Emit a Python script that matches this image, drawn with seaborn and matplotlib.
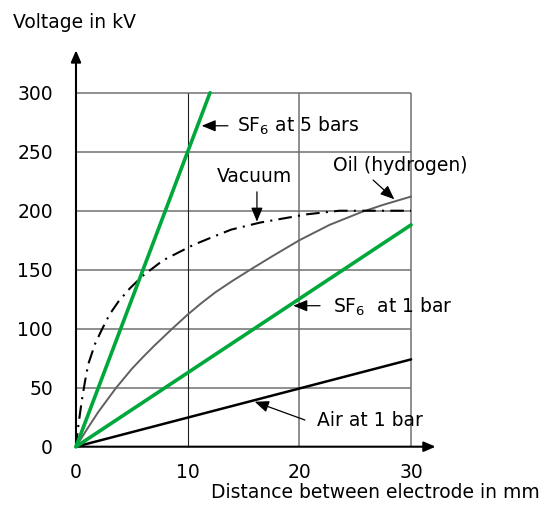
import pandas as pd
import seaborn as sns
import matplotlib.pyplot as plt
import numpy as np

### values (distance in mm, voltage in kV)
sf6_5_x = [0, 12]
sf6_5_y = [0, 300]

sf6_1_x = [0, 30]
sf6_1_y = [0, 188]

air_x = [0, 30]
air_y = [0, 74]

oil_x = [0, 1, 2, 3.6, 5, 6, 7, 8.5, 10, 11.2, 12.5, 14, 15.6, 17.5, 20, 22.7, 25.6, 27.5, 30]
oil_y = [0, 15, 29.5, 50, 66, 76, 85.5, 99, 112, 121.5, 131, 140.5, 150, 161, 175, 188, 199, 205, 212]

vac_x = [0, 0.2, 0.5, 0.8, 1.1, 1.7, 2.3, 3.0, 3.8, 4.8, 6.0, 7.8, 10.5,
         12.3, 13.9, 16.5, 18.9, 20.7, 23.6, 30]
vac_y = [0, 17, 38, 55, 70, 87, 99, 112, 123, 134, 145, 158, 171,
         178, 184, 190, 194, 197, 200, 200]

x_ticks = [0, 10, 20, 30]
y_ticks = [0, 50, 100, 150, 200, 250, 300]

sns.set_style("white")
plt.rcParams['font.family'] = ['DejaVu Sans']
plt.rcParams['mathtext.fontset'] = 'dejavusans'
plt.rcParams['mathtext.default'] = 'regular'
plt.rcParams['text.color'] = 'black'

FS = 13.5
GREEN = "#00a83c"

fig = plt.figure(figsize=(5.49, 5.05), dpi=100)
ax = fig.add_axes([60 / 549, 45 / 505, 400 / 549, 420 / 505])
ax.set_xlim(-1.432, 34.38)
ax.set_ylim(-11.27, 344.7)
for s in ax.spines.values():
    s.set_visible(False)

### grid box
ax.hlines(y_ticks[1:], 0, 30, color="#707070", lw=1.1, zorder=1)
ax.vlines(10, 0, 300, color="#202020", lw=0.8, zorder=1)
ax.vlines([20, 30], 0, 300, color="#707070", lw=1.1, zorder=1)

### axes with arrows
arr = dict(arrowstyle="-|>,head_length=0.7,head_width=0.3", color="black",
           lw=1.5, shrinkA=0, shrinkB=0)
ax.annotate("", xy=(0, 336), xytext=(0, 0), arrowprops=arr, annotation_clip=False)
ax.annotate("", xy=(32.2, 0), xytext=(0, 0), arrowprops=arr, annotation_clip=False)

### curves
sns.lineplot(x=air_x, y=air_y, color="black", lw=1.8, ax=ax, zorder=3)
sns.lineplot(x=oil_x, y=oil_y, color="#606060", lw=1.4, ax=ax, zorder=3)
sns.lineplot(x=vac_x, y=vac_y, color="black", lw=1.5, ax=ax, zorder=3,
             linestyle=(0, (6.5, 3, 1, 3)))
sns.lineplot(x=sf6_1_x, y=sf6_1_y, color=GREEN, lw=2.6, ax=ax, zorder=4)
sns.lineplot(x=sf6_5_x, y=sf6_5_y, color=GREEN, lw=2.6, ax=ax, zorder=4)

### ticks
ax.set_xticks(x_ticks, [str(v) for v in x_ticks])
ax.set_yticks(y_ticks, [str(v) for v in y_ticks])
ax.tick_params(axis="x", length=0, pad=2, labelsize=FS, labelcolor="black")
ax.tick_params(axis="y", length=0, pad=5, labelsize=FS, labelcolor="black")
ax.set_xlabel("")
ax.set_ylabel("")

### labels with arrows
head = dict(arrowstyle="-|>,head_length=0.85,head_width=0.35", color="black",
            lw=0.9, shrinkA=0, shrinkB=0, mutation_scale=10)
ax.annotate("", xy=(11.25, 272), xytext=(13.6, 272), arrowprops=head)
ax.text(14.4, 272, r"SF$_6$ at 5 bars", fontsize=FS, va="center", ha="left")

ax.annotate("", xy=(19.45, 119.5), xytext=(21.85, 119.5), arrowprops=head)
ax.text(23.0, 118.6, r"SF$_6$  at 1 bar", fontsize=FS, va="center", ha="left")

ax.annotate("", xy=(16.0, 38.1), xytext=(20.5, 22.6), arrowprops=head)
ax.text(21.6, 22.6, "Air at 1 bar", fontsize=FS, va="center", ha="left")

ax.annotate("", xy=(28.5, 209.7), xytext=(26.6, 226), arrowprops=head)
ax.text(23.0, 238.7, "Oil (hydrogen)", fontsize=FS, va="center", ha="left")

ax.annotate("", xy=(16.2, 190.7), xytext=(16.2, 216), arrowprops=head)
ax.text(12.6, 228.8, "Vacuum", fontsize=FS, va="center", ha="left")

fig.text(13 / 549, 1 - 22 / 505, "Voltage in kV", fontsize=FS, va="center", ha="left")
fig.text(540 / 549, 1 - 493 / 505, "Distance between electrode in mm", fontsize=FS,
         va="center", ha="right")

fig.savefig("out.png", dpi=100)
